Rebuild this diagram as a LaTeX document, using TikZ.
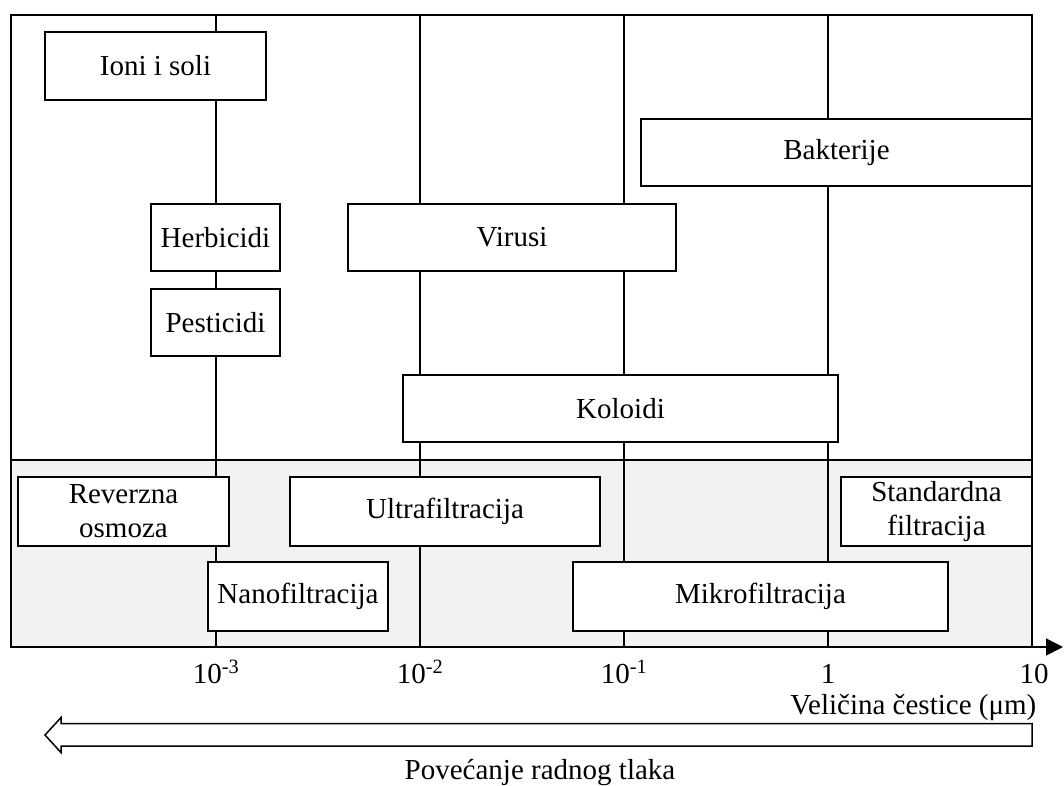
\documentclass[tikz,border=0pt]{standalone}
\usepackage{fontspec}
\setmainfont{Liberation Serif}
\usetikzlibrary{arrows.meta}
\begin{document}
\begin{tikzpicture}[x=1pt,y=-1pt,line width=1.5pt,
  txt/.style={font=\fontsize{29}{34}\selectfont, inner sep=0pt},
  box/.style={txt, draw, fill=white, align=center},
  grid/.style={line width=1.5pt},
  tick/.style={txt, anchor=base}]
\useasboundingbox (0,0) rectangle (1064,785);
% shaded filtration band
\fill[gray!10] (11,460) rectangle (1032,647);
% frame and decade lines
\draw (11,15) rectangle (1032,647);
\draw (11,460) -- (1032,460);
\foreach \xx in {216,420,624,828} \draw[grid] (\xx,15) -- (\xx,647);
% particle boxes
\node[box, minimum width=221pt, minimum height=68pt] (ioni) at (155.5,66) {Ioni i soli};
\node[box, minimum width=391pt, minimum height=67pt] (bakt) at (836.5,152.5) {Bakterije};
\node[box, minimum width=129pt, minimum height=67pt] (herb) at (215.5,237.5) {Herbicidi};
\node[box, minimum width=328pt, minimum height=67pt] (vir) at (512,237.5) {Virusi};
\node[box, minimum width=129pt, minimum height=67pt] (pest) at (215.5,322.5) {Pesticidi};
\node[box, minimum width=435pt, minimum height=67pt] (kol) at (620.5,408.5) {Koloidi};
% process boxes
\node[box, minimum width=211pt, minimum height=69pt] (ro) at (123.5,511.5) {Reverzna\\osmoza};
\node[box, minimum width=310pt, minimum height=69pt] (uf) at (445,511.5) {Ultrafiltracija};
\node[box, minimum width=191pt, minimum height=69pt] (sf) at (936.5,511.5) {Standardna\\filtracija};
\node[box, minimum width=180pt, minimum height=69pt] (nf) at (298,596.5) {Nanofiltracija};
\node[box, minimum width=375pt, minimum height=69pt] (mf) at (760.5,596.5) {Mikrofiltracija};
% axis
\coordinate (a0) at (11,647);
\coordinate (a1) at (1063,647);
\draw[-{Triangle[length=17pt,width=17pt]}] (a0) -- (a1);
\node[tick] (t3) at (216,683) {10\textsuperscript{-3}};
\node[tick] (t2) at (420,683) {10\textsuperscript{-2}};
\node[tick] (t1) at (624,683) {10\textsuperscript{-1}};
\node[tick] (t0) at (828,683) {1};
\node[tick] (t10) at (1034,683) {10};
\node[txt, anchor=base east] (xlab) at (1037,714) {Veličina čestice (μm)};
% pressure arrow
\draw[line width=1.5pt, fill=white] (1032,723.5) -- (61,723.5) -- (61,717.5) -- (45,735) -- (61,752.5) -- (61,746) -- (1032,746) -- cycle;
\node[txt, anchor=base] (plab) at (540,779) {Povećanje radnog tlaka};
\end{tikzpicture}
\end{document}
